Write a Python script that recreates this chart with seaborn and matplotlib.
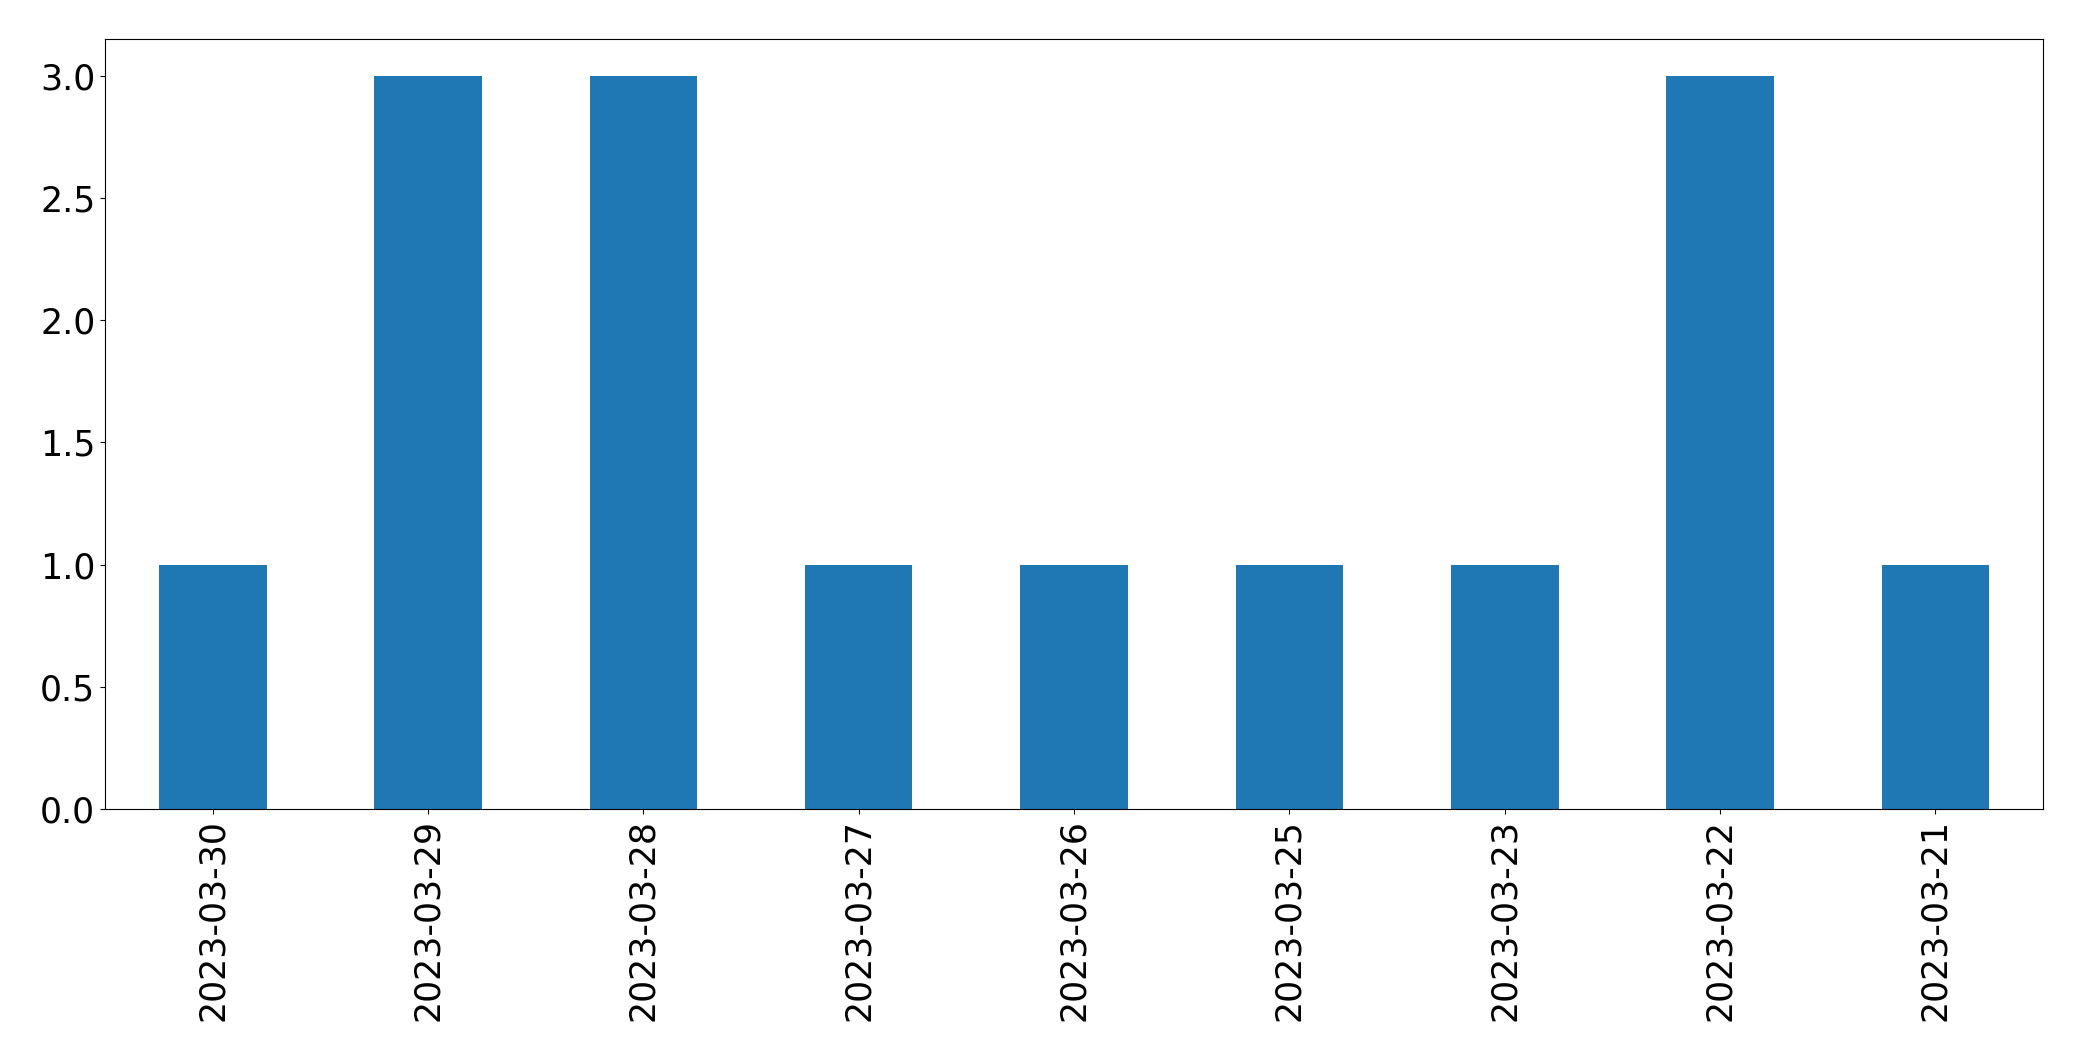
import matplotlib
matplotlib.use("Agg")
import matplotlib.pyplot as plt
import seaborn as sns
import pandas as pd

dates = ["2023-03-30", "2023-03-29", "2023-03-28", "2023-03-27", "2023-03-26",
         "2023-03-25", "2023-03-23", "2023-03-22", "2023-03-21"]
counts = [1, 3, 3, 1, 1, 1, 1, 3, 1]

df = pd.DataFrame({"date": dates, "count": counts})

fig = plt.figure(figsize=(20.82, 10.61), dpi=100)
ax = fig.add_axes([105/2082, 1 - 809/1061, (2043-105)/2082, (809-39)/1061])
sns.barplot(data=df, x="date", y="count", order=dates, color="#1f77b4",
            saturation=1, width=0.5, ax=ax, errorbar=None)
ax.set_xlim(-0.5, len(dates) - 0.5)
ax.set_ylim(0, 3.15)
ax.set_xlabel("")
ax.set_ylabel("")
ax.tick_params(axis="both", labelsize=25)
ax.tick_params(axis="x", labelrotation=90)
for s in ax.spines.values():
    s.set_visible(True)
    s.set_color("black")
fig.savefig("out.png", dpi=100)
